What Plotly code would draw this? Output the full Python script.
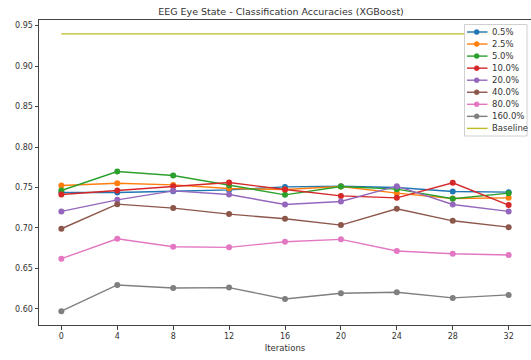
import plotly.graph_objects as go

iterations = [0, 4, 8, 12, 16, 20, 24, 28, 32]

labels = ["0.5%", "2.5%", "5.0%", "10.0%", "20.0%", "40.0%", "80.0%", "160.0%"]

acc_0_5 = [0.7438, 0.7438, 0.7454, 0.7470, 0.7507, 0.7516, 0.7500, 0.7450, 0.7442]
acc_2_5 = [0.7524, 0.7553, 0.7532, 0.7487, 0.7475, 0.7512, 0.7430, 0.7364, 0.7372]
acc_5_0 = [0.7463, 0.7697, 0.7648, 0.7528, 0.7409, 0.7512, 0.7479, 0.7360, 0.7430]
acc_10_0 = [0.7413, 0.7463, 0.7516, 0.7561, 0.7475, 0.7396, 0.7372, 0.7557, 0.7282]
acc_20_0 = [0.7204, 0.7347, 0.7458, 0.7413, 0.7290, 0.7327, 0.7516, 0.7290, 0.7204]
acc_40_0 = [0.6990, 0.7294, 0.7245, 0.7171, 0.7113, 0.7035, 0.7236, 0.7088, 0.7010]
acc_80_0 = [0.6620, 0.6866, 0.6768, 0.6760, 0.6830, 0.6859, 0.6715, 0.6682, 0.6665]
acc_160_0 = [0.5972, 0.6296, 0.6259, 0.6263, 0.6123, 0.6193, 0.6206, 0.6136, 0.6173]

baseline = 0.9398
baseline_label = "Baseline"

series = [acc_0_5, acc_2_5, acc_5_0, acc_10_0, acc_20_0, acc_40_0, acc_80_0, acc_160_0]
colors = ["#1f77b4", "#ff7f0e", "#2ca02c", "#d62728", "#9467bd", "#8c564b", "#e377c2", "#7f7f7f"]
baseline_color = "#bcbd22"

W, H = 531, 360
ML, MR, MT, MB = 39, 0, 20, 35
PW, PH = W - ML - MR, H - MT - MB


def px_x(px):
    """Horizontal pixel position -> paper coordinate."""
    return (px - ML) / PW


def px_y(py):
    """Vertical pixel position (from top) -> paper coordinate."""
    return (H - MB - py) / PH


fig = go.Figure()
for name, vals, col in zip(labels, series, colors):
    fig.add_trace(go.Scatter(
        x=iterations, y=vals, name=name, mode="lines+markers",
        line=dict(color=col, width=1.4),
        marker=dict(color=col, size=6),
        showlegend=False,
    ))

fig.add_trace(go.Scatter(
    x=[iterations[0], iterations[-1]], y=[baseline, baseline], name=baseline_label,
    mode="lines", line=dict(color=baseline_color, width=1.4), showlegend=False,
))

font_family = "DejaVu Sans"
axis_col = "#444444"
text_col = "#333333"

# Compact legend box in the upper-right corner, drawn with shapes and annotations
shapes = []
annotations = []
box_l, box_r, box_t, box_b = 464.5, 527, 24.5, 136
shapes.append(dict(
    type="rect", xref="paper", yref="paper",
    x0=px_x(box_l), x1=px_x(box_r), y0=px_y(box_b), y1=px_y(box_t),
    line=dict(color="#d0d0d0", width=1), fillcolor="rgba(255,255,255,0.85)", layer="above",
))
entries = [(lab, col, True) for lab, col in zip(labels, colors)]
entries.append((baseline_label, baseline_color, False))
row0, row_step = 32, 12.05
for i, (lab, col, has_marker) in enumerate(entries):
    cy = row0 + i * row_step
    shapes.append(dict(
        type="line", xref="paper", yref="paper",
        x0=px_x(467), x1=px_x(487.5), y0=px_y(cy), y1=px_y(cy),
        line=dict(color=col, width=1.4), layer="above",
    ))
    if has_marker:
        shapes.append(dict(
            type="circle", xref="paper", yref="paper",
            x0=px_x(474.2), x1=px_x(479.2), y0=px_y(cy + 2.5), y1=px_y(cy - 2.5),
            line=dict(color=col, width=0.5), fillcolor=col, layer="above",
        ))
    annotations.append(dict(
        text=lab, xref="paper", yref="paper", x=px_x(490), y=px_y(cy),
        xanchor="left", yanchor="middle", showarrow=False,
        font=dict(family=font_family, size=8.5, color=text_col),
    ))

fig.update_layout(
    width=W, height=H,
    margin=dict(l=ML, r=MR, t=MT, b=MB),
    paper_bgcolor="white", plot_bgcolor="white",
    font=dict(family=font_family, size=8, color=text_col),
    title=dict(
        text="EEG Eye State - Classification Accuracies (XGBoost)",
        x=px_x(281), xref="paper", xanchor="center",
        y=1, yref="paper", yanchor="bottom", pad=dict(b=5),
        font=dict(family=font_family, size=9.5, color=text_col),
    ),
    xaxis=dict(
        range=[-1.6, 33.6], tickvals=iterations, ticktext=[str(i) for i in iterations],
        showgrid=False, zeroline=False, showline=True, linecolor=axis_col, linewidth=1,
        mirror=True, ticks="outside", ticklen=3.5, tickcolor=axis_col,
        title=dict(text="Iterations", font=dict(size=8.5, color=text_col), standoff=4),
    ),
    yaxis=dict(
        range=[0.5801, 0.9569], tickvals=[0.60, 0.65, 0.70, 0.75, 0.80, 0.85, 0.90, 0.95],
        tickformat=".2f",
        showgrid=False, zeroline=False, showline=True, linecolor=axis_col, linewidth=1,
        ticks="outside", ticklen=3.5, tickcolor=axis_col,
    ),
    shapes=shapes,
    annotations=annotations,
    showlegend=False,
)

fig.write_html("out.html")
